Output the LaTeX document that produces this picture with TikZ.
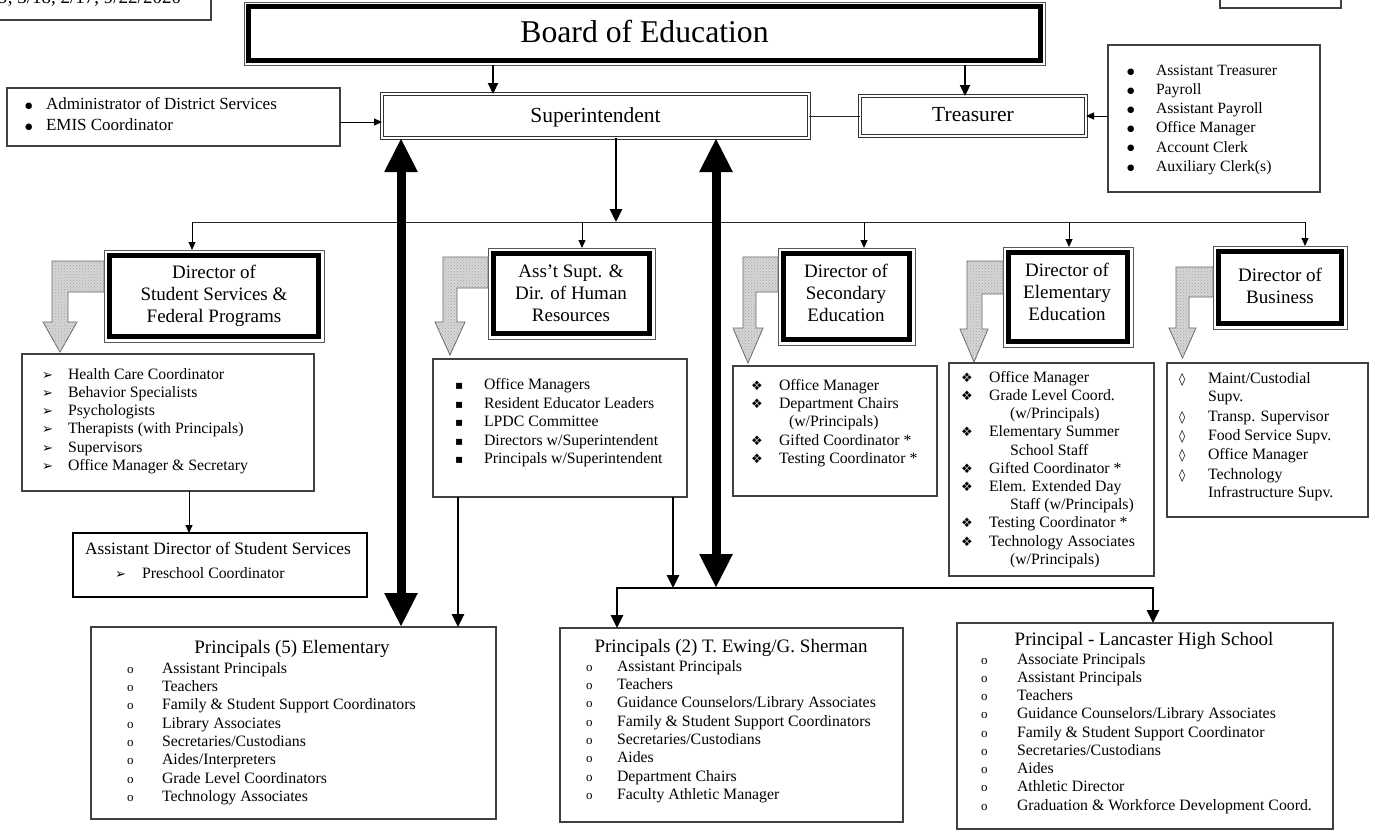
\documentclass[tikz,border=0pt]{standalone}
\usepackage{fontspec}
\setmainfont{Liberation Serif}
\newfontfamily\symf{DejaVu Sans}
\usetikzlibrary{arrows.meta,fit,patterns}
\newcommand\fs[2]{\fontsize{#1}{#2}\selectfont}
\newcommand\bDot{{\symf\fs{8.5}{8.5}\raisebox{1.2pt}{●}}}
\newcommand\bArw{{\symf\fs{13}{13}➢}}
\newcommand\bSq{{\symf\fs{12}{12}▪}}
\newcommand\bDia{{\symf\fs{13}{13}❖}}
\newcommand\bLoz{{\symf\fs{12.5}{12.5}◊}}
\newcommand\bCirc{{\fs{13}{13}o}}
\newlength\bw
\newcommand\I[1]{\makebox[\bw][l]{\curb}#1}
\newcommand\J[2]{\makebox[\bw][l]{}\hspace*{#1}#2}
\newcommand\inframe[3]{\draw[line width=#3] ([shift={(#2,#2)}]#1.north west) rectangle ([shift={(-#2,-#2)}]#1.south east);}
\begin{document}
\begin{tikzpicture}[x=1pt,y=-1pt,
  box/.style={draw=black!75, line width=1.1pt, inner sep=0pt, outer sep=0pt, fill=white},
  adbox/.style={draw=black, line width=2pt, inner sep=0pt, outer sep=0pt, fill=white},
  frame/.style={draw=black!65, line width=0.9pt, inner sep=0pt, outer sep=0pt, fill=white},
  dbl/.style={draw=black!80, double=white, double distance=2.2pt, line width=0.9pt, inner sep=0pt, outer sep=0pt},
  txt/.style={inner sep=0pt, outer sep=0pt, text=black},
  lst/.style={txt, anchor=base west, font=\fs{15.8}{18.25}},
  dtitle/.style={txt, anchor=base, font=\fs{19}{22.3}},
  ptitle/.style={txt, anchor=base, font=\fs{19}{22}},
  thinline/.style={line width=1pt, draw=black!85},
  thinarr/.style={line width=1pt, draw=black, -{Triangle[length=8pt,width=7pt]}},
  medarr/.style={line width=2.8pt, -{Triangle[length=13pt,width=12pt]}},
  medarrb/.style={line width=2.2pt, -{Triangle[length=11pt,width=10pt]}},
  bigarr/.style={line width=9pt, {Triangle[length=34pt,width=31pt]}-{Triangle[length=34pt,width=31pt]}},
  bent/.style={draw=black!60, line width=0.8pt, fill=black!16, postaction={pattern=crosshatch dots, pattern color=black!35}}
]
\path[use as bounding box] (0,0) rectangle (1381,831);
\fill[white] (0,0) rectangle (1381,831);

% helper coordinates
\coordinate (bus) at (0,222);
\coordinate (brk) at (0,588);
\coordinate (y121) at (0,122);
\coordinate (y116) at (0,116);
\foreach \xx in {189,192,401,458,493,582,616,617,673,716,864,965,1069,1153,1305}{\coordinate (x\xx) at (\xx,0);}

% partial boxes at the top edge
\node[box, fit={(-10,-20)(211,20)}] (rev) {};
\node[txt, anchor=base east, font=\fs{19}{22}] (revt) at (181,3.5) {9, 3/18, 2/17, 9/22/2020};
\node[box, fit={(1220,-20)(1341,8)}] (corner) {};

% Board
\node[frame, fit={(244,2)(1045,65)}] (board) {};
\inframe{board}{4.5}{4.5pt}
\node[txt, anchor=base, font=\fs{31.7}{36}] (boardt) at (644.5,42.5) {Board of Education};

% Superintendent / Treasurer
\node[dbl, fit={(382,94)(809,138)}] (sup) {};
\node[txt, anchor=base, font=\fs{21.5}{24}] (supt) at (595.5,122) {Superintendent};
\node[dbl, fit={(860,96)(1086,136)}] (treas) {};
\node[txt, anchor=base, font=\fs{21.5}{24}] (treast) at (973,121) {Treasurer};

% Admin list
\node[box, fit={(7,88)(340,146)}] (admin) {};
\node[lst, font=\fs{17}{21}] (admint) at (25,109.6) {\setlength\bw{21pt}\def\curb{\bDot}\begin{tabular}[t]{@{}l@{}}
\I{Administrator of District Services}\\
\I{EMIS Coordinator}\end{tabular}};

% Treasurer list
\node[box, fit={(1108,45)(1320,192)}] (tlist) {};
\node[lst, font=\fs{15.7}{19.2}] (tlistt) at (1127,75.2) {\setlength\bw{29pt}\def\curb{\bDot}\begin{tabular}[t]{@{}l@{}}
\I{Assistant Treasurer}\\
\I{Payroll}\\
\I{Assistant Payroll}\\
\I{Office Manager}\\
\I{Account Clerk}\\
\I{Auxiliary Clerk(s)}\end{tabular}};

% Directors
\node[frame, fit={(104,250)(324,342)}] (d1) {};
\inframe{d1}{5.5}{4.5pt}
\node[dtitle] (d1t) at (214,278.3) {\begin{tabular}[t]{@{}c@{}}Director of\\Student Services \&\\Federal Programs\end{tabular}};
\node[frame, fit={(488,248)(655,339)}] (d2) {};
\inframe{d2}{5.5}{4.5pt}
\node[dtitle] (d2t) at (571,277.3) {\begin{tabular}[t]{@{}c@{}}Ass’t Supt. \&\\Dir. of Human\\Resources\end{tabular}};
\node[frame, fit={(778,248)(915,345)}] (d3) {};
\inframe{d3}{5.5}{4.5pt}
\node[dtitle] (d3t) at (846,277.3) {\begin{tabular}[t]{@{}c@{}}Director of\\Secondary\\Education\end{tabular}};
\node[frame, fit={(1003,247)(1133,347)}] (d4) {};
\inframe{d4}{5.5}{4.5pt}
\node[dtitle] (d4t) at (1067,276.3) {\begin{tabular}[t]{@{}c@{}}Director of\\Elementary\\Education\end{tabular}};
\node[frame, fit={(1213,246)(1347,329)}] (d5) {};
\inframe{d5}{5.5}{4.5pt}
\node[dtitle] (d5t) at (1280,281.3) {\begin{tabular}[t]{@{}c@{}}Director of\\Business\end{tabular}};

% bent arrows
\path[bent] (104,261) -- (52,261) -- (52,322) -- (43,322) -- (60,352) -- (77,322) -- (68,322) -- (68,292) -- (104,292) -- cycle;
\path[bent] (488,257) -- (443,257) -- (443,322) -- (435,322) -- (450,355) -- (465,322) -- (457,322) -- (457,288) -- (488,288) -- cycle;
\path[bent] (778,257) -- (743,257) -- (743,328) -- (733,328) -- (748,363) -- (763,328) -- (756,328) -- (756,292) -- (778,292) -- cycle;
\path[bent] (1003,261) -- (967,261) -- (967,329) -- (960,329) -- (974,362) -- (988,329) -- (982,329) -- (982,294) -- (1003,294) -- cycle;
\path[bent] (1213,267) -- (1176,267) -- (1176,328) -- (1169,328) -- (1182.5,358) -- (1196,328) -- (1189,328) -- (1189,297) -- (1213,297) -- cycle;

% Director lists
\node[box, fit={(22,354)(314,491)}] (l1) {};
\node[lst] (l1t) at (42,379.2) {\setlength\bw{26pt}\def\curb{\bArw}\begin{tabular}[t]{@{}l@{}}
\I{Health Care Coordinator}\\
\I{Behavior Specialists}\\
\I{Psychologists}\\
\I{Therapists (with Principals)}\\
\I{Supervisors}\\
\I{Office Manager \& Secretary}\end{tabular}};

\node[adbox, fit={(73,533)(367,597)}] (ad) {};
\node[txt, anchor=base, font=\fs{17.4}{20}] (adt) at (218,554.7) {Assistant Director of Student Services};
\node[lst] (adl) at (115,578.5) {\setlength\bw{27pt}\def\curb{\bArw}\I{Preschool Coordinator}};

\node[box, fit={(433,359)(687,497)}] (l2) {};
\node[lst, font=\fs{15.8}{18.5}] (l2t) at (455,389.5) {\setlength\bw{29pt}\def\curb{\bSq}\begin{tabular}[t]{@{}l@{}}
\I{Office Managers}\\
\I{Resident Educator Leaders}\\
\I{LPDC Committee}\\
\I{Directors w/Superintendent}\\
\I{Principals w/Superintendent}\end{tabular}};

\node[box, fit={(733,366)(937,496)}] (l3) {};
\node[lst, font=\fs{15.8}{18.3}] (l3t) at (751,390.2) {\setlength\bw{28pt}\def\curb{\bDia}\begin{tabular}[t]{@{}l@{}}
\I{Office Manager}\\
\I{Department Chairs}\\
\J{10pt}{(w/Principals)}\\
\I{Gifted Coordinator *}\\
\I{Testing Coordinator *}\end{tabular}};

\node[box, fit={(949,363)(1154,576)}] (l4) {};
\node[lst, font=\fs{15.8}{18.2}] (l4t) at (961,382.2) {\setlength\bw{28pt}\def\curb{\bDia}\begin{tabular}[t]{@{}l@{}}
\I{Office Manager}\\
\I{Grade Level Coord.}\\
\J{21pt}{(w/Principals)}\\
\I{Elementary Summer}\\
\J{21pt}{School Staff}\\
\I{Gifted Coordinator *}\\
\I{Elem. Extended Day}\\
\J{21pt}{Staff (w/Principals)}\\
\I{Testing Coordinator *}\\
\I{Technology Associates}\\
\J{21pt}{(w/Principals)}\end{tabular}};

\node[box, fit={(1167,363)(1368,517)}] (l5) {};
\node[lst, font=\fs{15.8}{18.3}] (l5t) at (1179,383.3) {\setlength\bw{29pt}\def\curb{\bLoz}\begin{tabular}[t]{@{}l@{}}
\I{Maint/Custodial}\\
\J{0pt}{Supv.}\\[1.5pt]
\I{Transp. Supervisor}\\[0.8pt]
\I{Food Service Supv.}\\[0.8pt]
\I{Office Manager}\\[1.5pt]
\I{Technology}\\
\J{0pt}{Infrastructure Supv.}\end{tabular}};

% Principals
\node[box, fit={(91,627)(496,819)}] (p1) {};
\node[ptitle] (p1t) at (292,653.3) {Principals (5) Elementary};
\node[lst, font=\fs{15.8}{18.3}] (p1l) at (127,673.2) {\setlength\bw{35pt}\def\curb{\bCirc}\begin{tabular}[t]{@{}l@{}}
\I{Assistant Principals}\\
\I{Teachers}\\
\I{Family \& Student Support Coordinators}\\
\I{Library Associates}\\
\I{Secretaries/Custodians}\\
\I{Aides/Interpreters}\\
\I{Grade Level Coordinators}\\
\I{Technology Associates}\end{tabular}};

\node[box, fit={(560,628)(903,822)}] (p2) {};
\node[ptitle] (p2t) at (731,652.3) {Principals (2) T. Ewing/G. Sherman};
\node[lst, font=\fs{15.8}{18.3}] (p2l) at (586,671.2) {\setlength\bw{31pt}\def\curb{\bCirc}\begin{tabular}[t]{@{}l@{}}
\I{Assistant Principals}\\
\I{Teachers}\\
\I{Guidance Counselors/Library Associates}\\
\I{Family \& Student Support Coordinators}\\
\I{Secretaries/Custodians}\\
\I{Aides}\\
\I{Department Chairs}\\
\I{Faculty Athletic Manager}\end{tabular}};

\node[box, fit={(957,623)(1333,829)}] (p3) {};
\node[ptitle] (p3t) at (1144,645.3) {Principal - Lancaster High School};
\node[lst, font=\fs{15.8}{18.25}] (p3l) at (981,664.2) {\setlength\bw{36pt}\def\curb{\bCirc}\begin{tabular}[t]{@{}l@{}}
\I{Associate Principals}\\
\I{Assistant Principals}\\
\I{Teachers}\\
\I{Guidance Counselors/Library Associates}\\
\I{Family \& Student Support Coordinator}\\
\I{Secretaries/Custodians}\\
\I{Aides}\\
\I{Athletic Director}\\
\I{Graduation \& Workforce Development Coord.}\end{tabular}};

% connectors
\draw[medarrb] (board.south -| x493) -- (sup.north -| x493);
\draw[medarrb] (board.south -| x965) -- (treas.north -| x965);
\draw[thinline] (sup.east) -- (treas.west);
\draw[thinarr] (admin.east |- y121) -- (sup.west |- y121);
\draw[thinarr] (tlist.west |- y116) -- (treas.east |- y116);
\draw[medarr] (sup.south -| x616) -- (bus -| x616);
\draw[thinline] (bus -| x192) -- (bus -| x1305);
\draw[thinarr] (bus -| x192) -- (d1.north -| x192);
\draw[thinarr] (bus -| x582) -- (d2.north -| x582);
\draw[thinarr] (bus -| x864) -- (d3.north -| x864);
\draw[thinarr] (bus -| x1069) -- (d4.north -| x1069);
\draw[thinarr] (bus -| x1305) -- (d5.north -| x1305);
\draw[thinarr] (l1.south -| x189) -- (ad.north -| x189);
\draw[medarr] (l2.south -| x458) -- (p1.north -| x458);
\draw[medarr] (l2.south -| x673) -- (brk -| x673);
\draw[line width=2.8pt, {Triangle[length=13pt,width=12pt]}-{Triangle[length=13pt,width=12pt]}] (p2.north -| x617) -- (brk -| x617) -- (brk -| x1153) -- (p3.north -| x1153);
\draw[bigarr] (sup.south -| x401) -- (p1.north -| x401);
\draw[bigarr] (sup.south -| x716) -- (brk -| x716);
\end{tikzpicture}
\end{document}
